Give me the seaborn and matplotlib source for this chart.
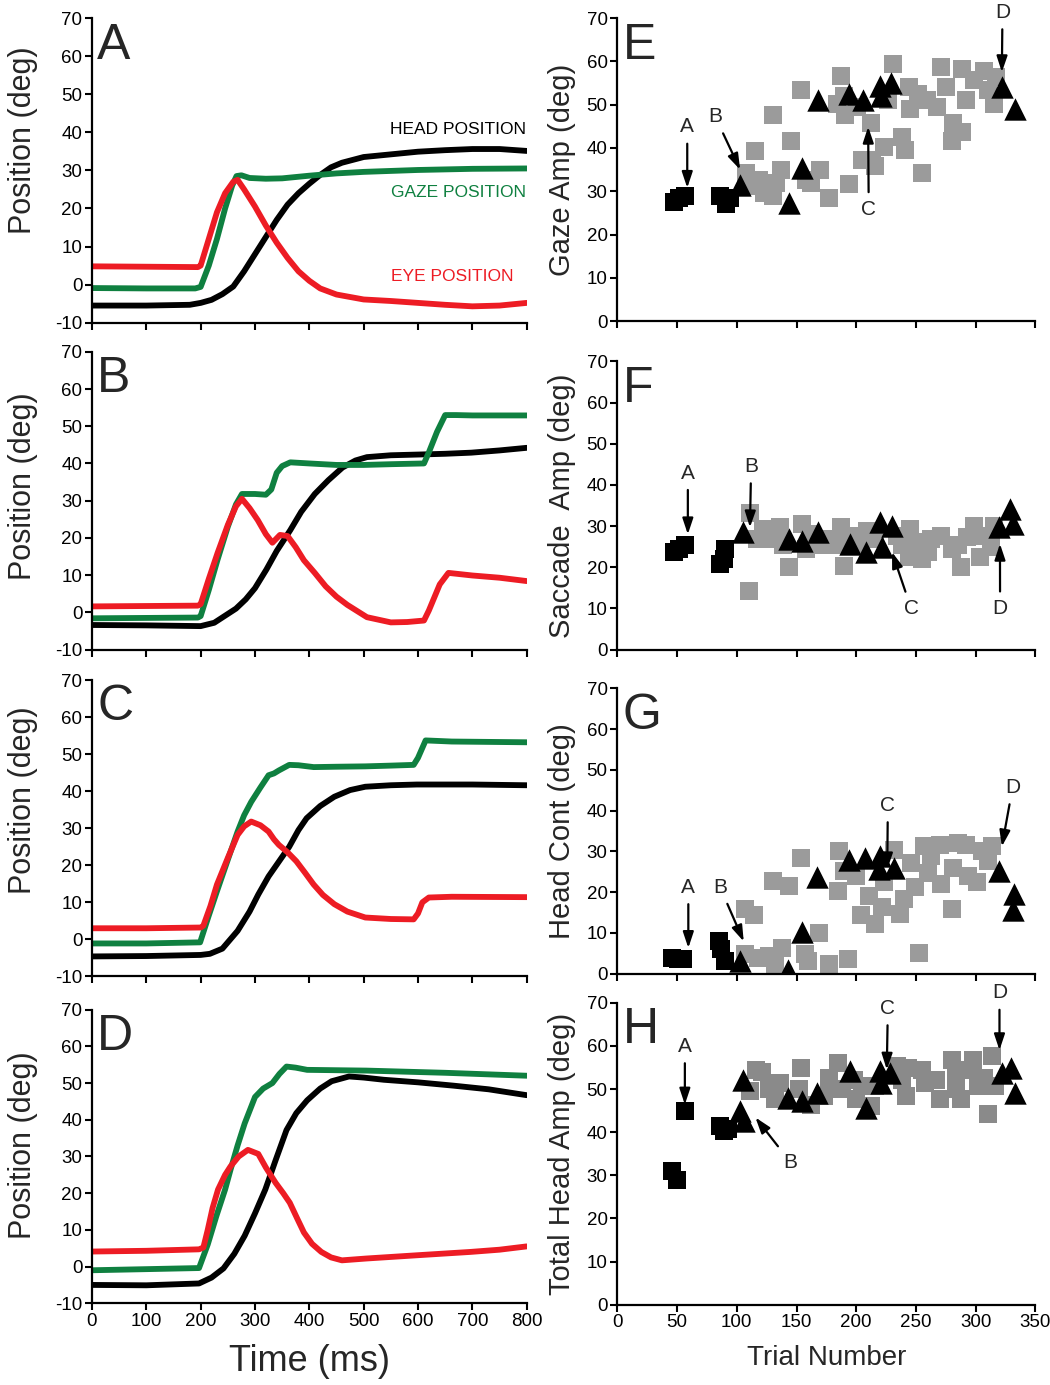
import numpy as np
import pandas as pd
import matplotlib
matplotlib.use("Agg")
import matplotlib.pyplot as plt
import seaborn as sns

a_head_t = [0, 100, 180, 200, 220, 240, 260, 280, 300, 320, 340, 360, 380, 400, 420, 440, 460, 500, 550, 600, 650, 700, 750, 800]
a_head = [-5.5, -5.5, -5.3, -4.8, -4.0, -2.5, -0.5, 3.5, 8.0, 12.5, 17.0, 21.0, 24.0, 26.5, 28.8, 30.8, 32.0, 33.5, 34.2, 34.9, 35.3, 35.6, 35.6, 35.1]
a_gaze_t = [0, 100, 190, 200, 215, 230, 245, 258, 266, 275, 290, 320, 350, 400, 450, 500, 600, 700, 800]
a_gaze = [-0.9, -1.0, -1.0, -0.6, 5.0, 12.0, 20.0, 26.0, 28.5, 28.7, 28.0, 27.8, 27.9, 28.6, 29.2, 29.6, 30.1, 30.4, 30.5]
a_eye_t = [0, 100, 195, 200, 215, 230, 245, 260, 268, 280, 300, 320, 340, 360, 380, 400, 420, 450, 500, 550, 600, 650, 700, 750, 800]
a_eye = [4.8, 4.7, 4.6, 5.0, 12.0, 19.0, 24.0, 27.0, 27.5, 25.0, 20.5, 15.5, 11.0, 7.0, 3.5, 1.0, -1.0, -2.6, -3.9, -4.3, -4.8, -5.3, -5.7, -5.5, -4.8]

b_head_t = [0, 100, 200, 225, 245, 265, 283, 300, 321, 340, 365, 385, 410, 435, 461, 485, 506, 550, 602, 650, 698, 750, 800]
b_head = [-3.4, -3.5, -3.7, -2.8, -0.9, 1.0, 3.5, 6.5, 11.5, 16.5, 22.1, 27.0, 31.8, 35.5, 38.9, 40.8, 41.7, 42.2, 42.4, 42.6, 42.9, 43.5, 44.2]
b_gaze_t = [0, 100, 195, 200, 215, 231, 250, 265, 276, 300, 320, 330, 340, 350, 365, 400, 450, 500, 550, 611, 620, 635, 650, 670, 700, 800]
b_gaze = [-1.6, -1.5, -1.4, -1.0, 6.0, 14.1, 23.0, 29.0, 31.8, 31.8, 31.6, 33.0, 37.5, 39.3, 40.3, 40.0, 39.6, 39.6, 39.8, 40.0, 43.0, 48.5, 53.0, 53.0, 52.9, 52.9]
b_eye_t = [0, 100, 195, 200, 215, 231, 250, 265, 276, 290, 305, 320, 332, 346, 360, 375, 390, 410, 430, 450, 470, 506, 550, 580, 611, 620, 640, 656, 700, 750, 800]
b_eye = [1.6, 1.7, 1.8, 2.2, 9.0, 15.9, 23.5, 28.5, 30.5, 28.0, 24.8, 21.0, 18.7, 20.8, 20.5, 17.5, 14.0, 10.6, 7.0, 4.2, 2.0, -1.3, -2.7, -2.6, -2.2, 0.5, 7.5, 10.6, 9.9, 9.3, 8.4]

c_head_t = [0, 100, 200, 217, 240, 268, 290, 306, 325, 344, 363, 380, 395, 420, 446, 475, 503, 550, 598, 700, 800]
c_head = [-4.6, -4.5, -4.2, -3.9, -2.5, 2.3, 7.5, 12.1, 17.0, 21.0, 25.0, 29.5, 32.7, 36.0, 38.5, 40.3, 41.2, 41.6, 41.8, 41.8, 41.6]
c_gaze_t = [0, 100, 199, 214, 230, 250, 268, 280, 293, 310, 325, 335, 344, 363, 380, 408, 450, 503, 550, 592, 600, 614, 662, 800]
c_gaze = [-1.1, -1.1, -0.8, 6.0, 13.0, 21.5, 29.1, 33.5, 37.1, 41.0, 44.3, 44.8, 45.6, 47.1, 47.0, 46.5, 46.6, 46.7, 46.9, 47.1, 49.0, 53.7, 53.4, 53.2]
c_eye_t = [0, 100, 200, 205, 218, 230, 250, 268, 280, 293, 310, 325, 335, 344, 360, 376, 392, 408, 425, 446, 470, 503, 550, 592, 600, 608, 620, 662, 800]
c_eye = [3.0, 3.0, 3.2, 3.7, 9.0, 14.8, 22.0, 28.2, 30.5, 31.8, 30.8, 29.1, 27.0, 25.5, 23.5, 21.1, 18.0, 14.8, 12.0, 9.5, 7.5, 5.9, 5.5, 5.4, 7.0, 10.0, 11.3, 11.5, 11.4]

d_head_t = [0, 100, 197, 220, 242, 262, 281, 300, 319, 338, 358, 376, 396, 420, 441, 473, 500, 537, 600, 665, 730, 800]
d_head = [-5.0, -5.1, -4.6, -3.0, -0.5, 3.5, 8.4, 14.5, 21.0, 29.0, 37.2, 41.8, 45.3, 48.5, 50.5, 51.8, 51.5, 50.9, 50.2, 49.3, 48.3, 46.7]
d_gaze_t = [0, 100, 197, 213, 229, 245, 255, 268, 281, 300, 315, 332, 345, 358, 375, 396, 450, 505, 650, 800]
d_gaze = [-1.0, -0.7, -0.4, 6.0, 13.8, 21.0, 26.4, 33.0, 39.0, 46.2, 48.5, 50.0, 52.5, 54.5, 54.2, 53.6, 53.5, 53.4, 52.8, 52.0]
d_eye_t = [0, 100, 197, 205, 213, 222, 232, 245, 255, 270, 287, 306, 320, 338, 352, 364, 378, 390, 405, 422, 440, 460, 505, 600, 697, 750, 800]
d_eye = [4.1, 4.3, 4.7, 5.2, 10.0, 16.0, 21.0, 25.0, 27.3, 30.0, 31.8, 30.7, 27.0, 22.8, 20.0, 17.4, 13.0, 9.3, 6.2, 4.0, 2.5, 1.7, 2.2, 3.1, 4.0, 4.6, 5.5]

e_sq_x = [47, 52, 57, 86, 91, 94]
e_sq_y = [27.5, 28.5, 29.0, 29.0, 27.0, 28.5]
e_tri_x = [103, 144, 155, 168, 194, 206, 220, 221, 229, 322, 333]
e_tri_y = [31.5, 27.4, 35.4, 51.0, 52.5, 51.0, 54.4, 52.0, 55.0, 54.0, 49.0]
e_gray_x = [115, 108, 111, 119, 123, 130, 133, 137, 130, 145, 154, 158, 162, 170, 177, 187, 184, 190, 191, 194,
            201, 205, 212, 213, 216, 223, 227, 231, 238, 241, 244, 245, 255, 252, 259, 268, 271, 275, 281, 280,
            289, 289, 292, 299, 307, 310, 315, 317]
e_gray_y = [39.2, 34.2, 31.2, 32.7, 29.7, 28.9, 32.0, 35.0, 47.6, 41.5, 53.3, 32.7, 32.0, 35.0, 28.5, 56.7, 50.2, 52.1, 47.6, 31.6,
            49.5, 37.3, 45.7, 37.3, 35.8, 40.3, 51.0, 59.4, 42.6, 39.6, 54.0, 49.0, 34.2, 52.5, 51.0, 49.5, 58.6, 54.0, 45.7, 41.5,
            58.2, 43.8, 51.0, 55.6, 57.8, 53.3, 50.2, 56.3]

f_sq_x = [47, 52, 57, 86, 89, 90]
f_sq_y = [23.7, 24.5, 25.3, 20.9, 22.0, 24.5]
f_tri_x = [105, 144, 155, 168, 195, 208, 220, 222, 230, 320, 329, 331]
f_tri_y = [28.5, 26.9, 26.5, 28.5, 25.7, 23.7, 30.9, 24.9, 30.1, 29.7, 34.1, 30.5]
f_gray_x = [110, 144, 111, 117, 122, 130, 136, 139, 155, 161, 158, 172, 187, 190, 186, 202, 209, 216, 234, 238,
            245, 244, 255, 252, 263, 271, 280, 288, 293, 299, 304, 307, 313, 315, 285, 260, 195, 175]
f_gray_y = [14.2, 20.0, 33.3, 26.9, 29.3, 26.9, 29.7, 25.3, 30.5, 28.1, 24.5, 25.3, 29.7, 20.4, 25.3, 25.3, 28.9, 26.9, 27.7, 25.3,
            29.3, 22.5, 22.1, 26.1, 26.9, 27.7, 24.5, 20.0, 27.3, 30.1, 22.5, 27.7, 24.9, 30.1, 25.3, 23.7, 27.7, 26.9]

g_sq_x = [46, 51, 55, 85, 87, 90]
g_sq_y = [3.9, 3.7, 3.5, 8.0, 6.0, 3.0]
g_tri_x = [103, 143, 155, 167, 194, 207, 220, 219, 232, 320, 332, 331]
g_tri_y = [3.1, 1.0, 10.3, 23.6, 28.0, 28.4, 28.8, 25.6, 26.0, 25.2, 19.5, 15.5]
g_gray_x = [107, 114, 107, 118, 127, 132, 138, 130, 144, 154, 157, 160, 169, 177, 186, 185, 190, 193, 200, 204,
            211, 216, 222, 232, 237, 240, 246, 249, 253, 257, 260, 270, 271, 280, 281, 285, 292, 294, 301, 305,
            310, 314, 263, 223]
g_gray_y = [15.9, 14.3, 4.7, 3.9, 4.3, 2.3, 6.3, 22.8, 21.6, 28.4, 4.7, 3.1, 9.9, 2.3, 30.0, 20.4, 25.2, 3.5, 24.0, 14.3,
            19.1, 12.3, 16.3, 30.4, 14.7, 18.3, 27.2, 21.2, 5.1, 31.2, 24.8, 31.6, 22.0, 15.9, 26.0, 32.0, 31.6, 24.0, 22.4, 30.0,
            27.6, 31.2, 28.8, 22.4]

h_sq_x = [57, 46, 50, 86, 89, 93]
h_sq_y = [44.9, 31.1, 28.8, 41.4, 40.3, 40.7]
h_tri_x = [105, 103, 106, 143, 155, 167, 195, 208, 220, 221, 228, 322, 330, 333]
h_tri_y = [52.2, 44.9, 42.6, 48.0, 47.2, 49.1, 54.1, 45.7, 54.1, 51.4, 53.7, 53.7, 54.9, 49.1]
h_gray_x = [111, 116, 121, 127, 132, 136, 154, 152, 162, 173, 177, 185, 188, 200, 205, 212, 216, 234, 238, 242,
            243, 255, 258, 267, 270, 280, 284, 288, 292, 298, 302, 310, 307, 314, 316, 284, 198]
h_gray_y = [49.5, 54.5, 54.0, 49.9, 47.6, 51.4, 54.9, 49.9, 46.4, 48.3, 52.6, 56.0, 49.9, 47.6, 50.7, 46.0, 50.7, 55.3, 52.2, 48.3,
            54.9, 54.5, 51.4, 52.2, 47.6, 56.8, 49.9, 47.6, 54.5, 56.8, 50.7, 44.1, 52.6, 57.6, 50.7, 53.4, 52.2]

left_letters = ["A", "B", "C", "D"]
right_letters = ["E", "F", "G", "H"]
right_ylabels = ["Gaze Amp (deg)", "Saccade  Amp (deg)", "Head Cont (deg)", "Total Head Amp (deg)"]

RED = "#ed1c24"
GREEN = "#0f8040"
BLACK = "#000000"

sns.set_style("ticks")
plt.rcParams['font.family'] = ['Liberation Sans', 'DejaVu Sans']
plt.rcParams['axes.unicode_minus'] = False

fig = plt.figure(figsize=(10.5, 13.85), dpi=100)

left_pos = [
    [0.0876, 0.767, 0.414, 0.220],
    [0.0876, 0.531, 0.414, 0.215],
    [0.0876, 0.295, 0.414, 0.214],
    [0.0876, 0.059, 0.414, 0.212],
]
right_pos = [
    [0.588, 0.768, 0.398, 0.219],
    [0.588, 0.531, 0.398, 0.208],
    [0.588, 0.297, 0.398, 0.206],
    [0.588, 0.058, 0.398, 0.218],
]
left_ylab_y = [0.60, 0.55, 0.595, 0.54]

traces = [
    (a_head_t, a_head, a_gaze_t, a_gaze, a_eye_t, a_eye),
    (b_head_t, b_head, b_gaze_t, b_gaze, b_eye_t, b_eye),
    (c_head_t, c_head, c_gaze_t, c_gaze, c_eye_t, c_eye),
    (d_head_t, d_head, d_gaze_t, d_gaze, d_eye_t, d_eye),
]


def style_axes(ax):
    sns.despine(ax=ax)
    for s in ["left", "bottom"]:
        ax.spines[s].set_linewidth(1.6)
        ax.spines[s].set_color("black")
    ax.tick_params(direction="out", length=5, width=1.5, labelsize=13.5, colors="black", pad=2)


for i, (ht, hy, gt, gy, et, ey) in enumerate(traces):
    ax = fig.add_axes(left_pos[i])
    sns.lineplot(x=ht, y=hy, ax=ax, color=BLACK, linewidth=4.2, estimator=None, sort=False)
    sns.lineplot(x=gt, y=gy, ax=ax, color=GREEN, linewidth=4.2, estimator=None, sort=False)
    sns.lineplot(x=et, y=ey, ax=ax, color=RED, linewidth=4.2, estimator=None, sort=False)
    ax.set_xlim(0, 800)
    ax.set_ylim(-10, 70)
    ax.set_xticks(range(0, 801, 100))
    ax.set_yticks(range(-10, 71, 10))
    style_axes(ax)
    ax.set_ylabel("Position (deg)", fontsize=22)
    ax.yaxis.set_label_coords(-0.125, left_ylab_y[i])
    ax.text(0.012, 0.985, left_letters[i], transform=ax.transAxes, fontsize=36, va="top", ha="left")
    if i < 3:
        ax.set_xticklabels([])
        ax.set_xlabel("")
    else:
        ax.set_xlabel("Time (ms)", fontsize=26, labelpad=10)
    if i == 0:
        ax.text(798, 40.6, "HEAD POSITION", color=BLACK, fontsize=12.5, ha="right", va="center")
        ax.text(798, 24.3, "GAZE POSITION", color=GREEN, fontsize=12.5, ha="right", va="center")
        ax.text(775, 2.0, "EYE POSITION", color=RED, fontsize=12.5, ha="right", va="center")

scatters = [
    (e_gray_x, e_gray_y, e_sq_x, e_sq_y, e_tri_x, e_tri_y),
    (f_gray_x, f_gray_y, f_sq_x, f_sq_y, f_tri_x, f_tri_y),
    (g_gray_x, g_gray_y, g_sq_x, g_sq_y, g_tri_x, g_tri_y),
    (h_gray_x, h_gray_y, h_sq_x, h_sq_y, h_tri_x, h_tri_y),
]
gray_cols = ["#9b9b9b", "#9b9b9b", "#9b9b9b", "#8a8a8a"]

# arrow annotations: (label, text xy, arrow head xy)
notes = [
    [("A", (58.5, 44.9), (58.5, 30.8)), ("B", (82, 47.2), (102.8, 35.0)),
     ("C", (210.5, 25.9), (210, 44.9)), ("D", (322.5, 71.3), (322, 57.5))],
    [("A", (59, 42.9), (59, 28.0)), ("B", (112, 44.5), (111, 29.7)),
     ("C", (246, 10.0), (230, 23.7)), ("D", (320.5, 10.0), (320.4, 25.7))],
    [("A", (59.4, 21.2), (59.4, 6.3)), ("B", (86, 21.2), (105.8, 7.9)),
     ("C", (226.5, 41.3), (226, 25.6)), ("D", (331, 45.7), (322, 31.2))],
    [("A", (56.5, 59.9), (56.5, 46.4)), ("B", (145, 33.0), (115.6, 43.4)),
     ("C", (226.5, 68.7), (225.6, 54.5)), ("D", (320, 72.3), (320, 59.0))],
]

for i, (gx, gy, sx, sy, tx, ty) in enumerate(scatters):
    ax = fig.add_axes(right_pos[i])
    sns.scatterplot(x=gx, y=gy, ax=ax, marker="s", s=150, color=gray_cols[i], linewidth=0, zorder=2)
    sns.scatterplot(x=sx, y=sy, ax=ax, marker="s", s=150, color=BLACK, linewidth=0, zorder=3)
    sns.scatterplot(x=tx, y=ty, ax=ax, marker="^", s=260, color=BLACK, linewidth=0, zorder=4)
    ax.set_xlim(0, 350)
    ax.set_ylim(0, 70)
    ax.set_xticks(range(0, 351, 50))
    ax.set_yticks(range(0, 71, 10))
    style_axes(ax)
    ax.set_ylabel(right_ylabels[i], fontsize=21)
    ax.yaxis.set_label_coords(-0.10, 0.5)
    ax.text(0.012, 0.985, right_letters[i], transform=ax.transAxes, fontsize=36, va="top", ha="left")
    for lab, txy, hxy in notes[i]:
        ax.annotate(lab, xy=hxy, xytext=txy, fontsize=15, ha="center", va="center",
                    annotation_clip=False, zorder=5,
                    arrowprops=dict(arrowstyle="-|>,head_length=0.6,head_width=0.2", color="black", lw=1.6,
                                    mutation_scale=16, shrinkA=3, shrinkB=0))
    if i < 3:
        ax.set_xticklabels([])
        ax.set_xlabel("")
    else:
        ax.set_xlabel("Trial Number", fontsize=20, labelpad=10)

fig.savefig("out.png", dpi=100)
